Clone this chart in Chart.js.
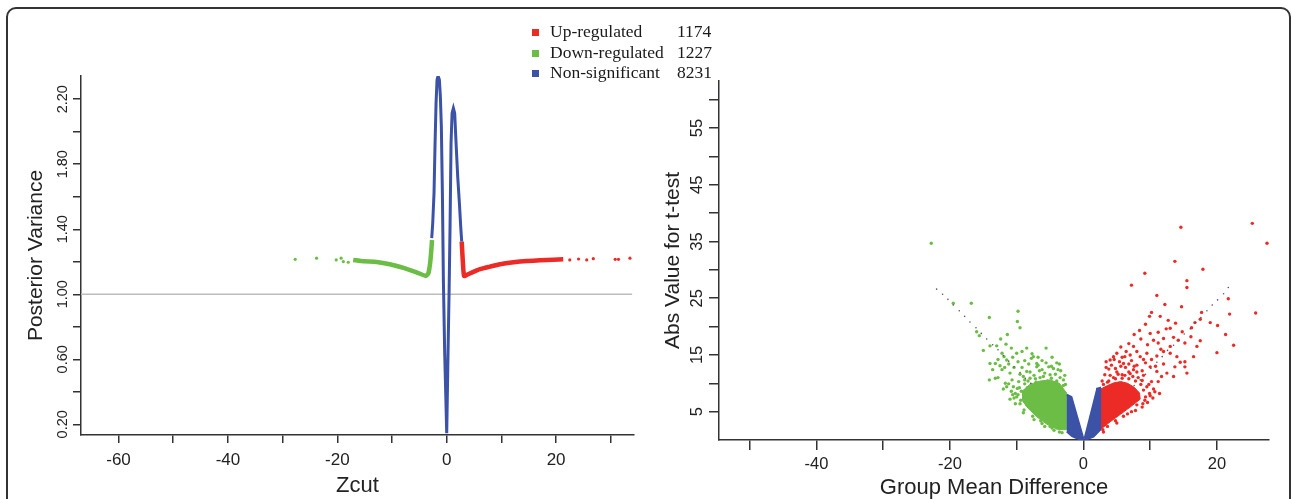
<!DOCTYPE html>
<html lang="en">
<head>
  <meta charset="UTF-8">
  <title>Posterior variance and volcano plot</title>
  <script src="https://cdn.jsdelivr.net/npm/chart.js"></script>
  <style>
    body { margin: 0; background: #fff; width: 1292px; height: 499px; overflow: hidden; position: relative; }
    .frame { position: absolute; left: 6px; top: 7px; width: 1281px; height: 600px; border: 2px solid #333; border-radius: 10px; }
    canvas { position: absolute; top: 0; }
    #leftChart { left: 0; }
    #rightChart { left: 650px; }
    .legend { position: absolute; left: 532px; top: 21px; font-family: 'Liberation Serif', serif; font-size: 17.5px; color: #1a1a1a; }
    .legend .row { height: 20.5px; line-height: 20.5px; white-space: nowrap; }
    .legend .sw { display: inline-block; width: 7px; height: 7px; margin-right: 11px; vertical-align: 1px; }
    .legend .lbl { display: inline-block; width: 127px; }
  </style>
</head>
<body>
  <div class="frame"></div>
  <canvas id="leftChart" width="650" height="499"></canvas>
  <canvas id="rightChart" width="642" height="499"></canvas>
  <div class="legend" id="legend"></div>

  <script>
    // legend
    const legendLabels = ['Up-regulated', 'Down-regulated', 'Non-significant'];
    const legendCounts = [1174, 1227, 8231];

    // left panel: Zcut vs posterior variance
    const leftXTicks = [-60, -50, -40, -30, -20, -10, 0, 10, 20, 30];
    const leftXLabels = [-60, -40, -20, 0, 20];
    const leftYTicks = [0.2, 0.4, 0.6, 0.8, 1.0, 1.2, 1.4, 1.6, 1.8, 2.0, 2.2];
    const leftYLabels = [0.2, 0.6, 1.0, 1.4, 1.8, 2.2];
    const refLineY = 1.0;

    const leftGreenSparse = [[-27.7, 1.215], [-23.8, 1.222], [-20.2, 1.211], [-19.3, 1.222], [-18.9, 1.201], [-18.0, 1.197]];
    const leftGreenBand = [[-17.1, 1.211], [-15.2, 1.203], [-12.8, 1.199], [-10.4, 1.185], [-7.9, 1.162], [-5.5, 1.135],
      [-3.8, 1.113], [-3.35, 1.129], [-3.05, 1.187], [-2.86, 1.252], [-2.68, 1.334]];
    const leftBlueCurve = [[-2.74, 1.345], [-2.56, 1.437], [-2.32, 1.622], [-2.13, 1.929], [-1.95, 2.175], [-1.77, 2.319],
      [-1.58, 2.344], [-1.34, 2.319], [-1.16, 2.216], [-0.98, 2.031], [-0.79, 1.622], [-0.61, 1.088], [-0.37, 0.637],
      [-0.18, 0.390], [0, 0.145], [0.12, 0.390], [0.24, 0.637], [0.43, 1.006], [0.61, 1.416], [0.79, 1.929],
      [0.98, 2.114], [1.22, 2.145], [1.46, 2.114], [1.71, 1.929], [2.01, 1.724], [2.32, 1.560], [2.56, 1.416], [2.74, 1.324]];
    const leftRedBand = [[2.74, 1.324], [2.93, 1.211], [3.17, 1.113], [3.66, 1.119], [4.57, 1.133], [6.09, 1.154],
      [7.92, 1.170], [9.75, 1.185], [12.19, 1.197], [14.63, 1.205], [17.06, 1.209], [19.5, 1.213], [21.3, 1.215]];
    const leftRedSparse = [[22.5, 1.211], [24.1, 1.217], [25.6, 1.211], [26.8, 1.219], [30.8, 1.215], [31.4, 1.215], [33.5, 1.222]];

    // right panel: group mean difference vs |t|
    const rightXTicks = [-50, -40, -30, -20, -10, 0, 10, 20];
    const rightXLabels = [-40, -20, 0, 20];
    const rightYTicks = [5, 10, 15, 20, 25, 30, 35, 40, 45, 50, 55, 60];
    const rightYLabels = [5, 15, 25, 35, 45, 55];

    const rightGreenCore = [[-9.2, 8.6], [-8.0, 9.8], [-6.5, 10.4], [-5.0, 10.6], [-3.6, 10.0], [-2.6, 8.4], [-2.6, 1.8],
      [-4.0, 1.9], [-5.5, 2.8], [-7.0, 4.1], [-8.3, 5.6], [-9.2, 7.0]];
    const rightGreenPoints = [[-54.8, 63.0], [-22.8, 34.7], [-19.5, 24.1], [-16.8, 24.1], [-14.1, 21.6], [-9.8, 22.7],
      [-9.9, 20.9], [-9.5, 19.8], [-11.4, 18.6], [-11.6, 16.9], [-16.0, 19.1], [-15.6, 18.4], [-14.0, 16.6], [-15.0, 15.8],
      [-12.2, 15.3], [-11.9, 14.7], [-11.5, 14.1], [-11.2, 13.4], [-14.0, 13.5], [-13.2, 13.5], [-12.5, 13.1], [-12.2, 12.4],
      [-14.1, 10.6], [-13.2, 10.9], [-11.7, 10.0], [-10.0, 15.3], [-9.2, 15.6], [-8.5, 16.2], [-7.7, 15.2], [-7.5, 14.7],
      [-5.6, 16.2], [-7.0, 13.5], [-4.7, 14.6], [-4.0, 13.6], [-3.6, 13.4], [-4.5, 12.6], [-7.0, 12.9], [-6.2, 12.4],
      [-8.5, 12.1], [-9.5, 11.6], [-9.7, 10.3], [-8.8, 10.6], [-8.0, 10.9], [-10.2, 8.2], [-10.0, 7.6], [-8.5, 6.2],
      [-4.7, 2.1], [-11.0, 11.8], [-10.7, 10.6], [-11.5, 9.4], [-10.5, 9.4], [-6.5, 11.0], [-5.0, 11.5], [-3.5, 11.0],
      [-6.0, 9.5], [-9.0, 11.2], [-8.0, 12.0], [-7.4, 11.4], [-6.6, 12.2], [-5.8, 11.8], [-5.2, 12.9], [-4.2, 11.6],
      [-3.4, 12.2], [-7.8, 9.8], [-9.6, 9.2], [-10.8, 8.6], [-11.2, 9.9], [-12.0, 9.0], [-6.2, 14.0], [-8.2, 13.4],
      [-9.8, 13.8], [-10.4, 12.8], [-3.0, 9.6], [-2.8, 11.4], [-5.4, 10.4], [-8.6, 8.4], [-9.4, 7.0], [-6.8, 4.6], [-3.6, 1.4],
      [-9.8, 8.0], [-9.5, 6.4], [-8.9, 5.3], [-7.6, 4.2], [-6.4, 3.4], [-5.0, 2.4], [-10.4, 7.4], [-9.9, 9.1], [-8.8, 9.9],
      [-7.2, 10.8], [-6.0, 11.2], [-4.8, 10.9], [-3.0, 10.6], [-2.7, 9.8], [-8.3, 10.4], [-7.9, 8.9], [-10.6, 8.0],
      [-11.0, 7.2], [-9.0, 4.8], [-6.2, 2.9], [-4.4, 1.7], [-3.2, 1.3], [-7.1, 10.2], [-5.6, 10.2], [-4.0, 10.4],
      [-8.4, 9.2], [-9.3, 8.6], [-10.2, 6.4], [-7.4, 3.6], [-5.8, 2.4], [-6.8, 14.6], [-7.8, 14.4], [-8.8, 14.0],
      [-10.6, 14.6], [-12.8, 14.2], [-13.6, 12.4], [-12.8, 11.0], [-11.8, 12.8], [-9.2, 12.8], [-5.6, 13.6], [-4.8, 13.0],
      [-3.8, 12.4], [-6.8, 13.2], [-13.0, 16.6], [-12.4, 17.8], [-10.8, 16.2]];
    const rightBlueLeft = [[-2.5, 8.0], [-1.8, 7.6], [-0.1, 0.6], [0, 0.1], [-0.8, 0.2], [-1.7, 0.7], [-2.5, 1.5]];
    const rightBlueRight = [[1.9, 9.0], [2.5, 9.2], [2.5, 1.8], [1.5, 0.6], [0.4, 0.1], [0.1, 0.6]];
    const rightRedCore = [[2.6, 9.0], [3.6, 9.6], [4.6, 10.1], [5.6, 10.3], [6.6, 10.0], [7.6, 9.3], [8.4, 8.3], [8.5, 7.2],
      [7.0, 5.8], [5.5, 4.5], [4.0, 3.2], [2.6, 1.9]];
    const rightRedPoints = [[25.3, 38.2], [14.6, 37.5], [27.5, 34.7], [13.7, 31.5], [17.9, 30.1], [9.2, 29.4], [15.5, 28.1],
      [15.5, 26.9], [7.2, 27.3], [11.0, 25.5], [21.7, 24.9], [14.7, 23.5], [12.2, 23.9], [21.9, 22.2], [25.8, 22.4],
      [10.2, 22.5], [9.9, 21.8], [11.5, 21.8], [12.7, 21.1], [17.7, 22.5], [17.5, 21.3], [16.7, 20.7], [19.0, 20.7],
      [20.1, 20.2], [16.2, 19.8], [13.0, 19.7], [12.4, 19.6], [9.3, 20.4], [8.4, 19.3], [7.6, 18.6], [14.8, 19.1],
      [21.3, 18.6], [22.5, 16.7], [20.0, 15.4], [16.1, 18.2], [15.2, 17.1], [14.2, 17.6], [13.5, 18.1], [17.0, 16.5],
      [17.5, 17.5], [16.5, 14.7], [15.2, 13.8], [15.2, 12.9], [13.0, 16.5], [11.2, 17.1], [10.5, 17.6], [12.0, 17.9],
      [13.7, 12.9], [13.5, 11.2], [12.5, 11.8], [11.0, 12.1], [10.0, 12.9], [9.3, 13.6], [8.0, 13.2], [6.4, 15.6],
      [6.2, 14.7], [5.0, 15.3], [4.5, 14.7], [4.0, 14.1], [8.5, 14.7], [7.5, 16.5], [9.5, 15.3], [11.0, 14.8],
      [12.0, 15.6], [10.7, 8.5], [11.4, 8.2], [9.5, 9.4], [11.7, 11.2], [10.2, 10.3], [11.2, 10.3], [13.0, 15.3],
      [14.0, 14.7], [14.5, 13.7], [15.5, 11.8], [3.2, 11.5], [3.8, 12.5], [4.5, 11.0], [5.0, 12.0], [5.8, 11.5],
      [6.3, 12.8], [7.0, 11.7], [7.5, 12.4], [8.2, 11.0], [8.8, 10.5], [6.0, 13.5], [5.4, 13.8], [7.2, 14.0], [8.8, 12.2],
      [9.8, 9.8], [10.5, 9.0], [3.6, 10.2], [4.2, 13.2], [9.6, 6.6], [8.8, 5.8], [7.8, 5.2], [6.6, 4.6], [9.2, 7.0],
      [10.0, 7.8], [2.8, 10.4], [3.0, 1.4], [5.0, 3.0],
      [9.0, 8.8], [9.3, 7.6], [8.0, 6.2], [7.2, 5.0], [6.0, 4.2], [4.8, 3.4], [3.6, 2.4], [2.9, 1.8], [8.6, 9.8],
      [7.8, 10.4], [6.8, 10.8], [5.8, 10.9], [4.8, 10.8], [3.8, 10.4], [3.0, 9.8], [9.9, 8.2], [10.4, 7.4], [8.9, 6.4],
      [6.2, 11.4], [7.4, 11.2], [4.0, 11.4], [5.2, 11.6], [6.8, 12.0], [8.0, 12.0], [9.0, 11.4], [4.8, 12.6], [5.6, 13.0],
      [6.8, 13.4], [7.6, 13.0], [3.4, 12.8], [4.6, 14.2], [5.8, 14.6], [7.0, 15.0], [8.0, 15.6], [9.0, 14.2], [10.2, 14.2],
      [10.8, 13.0], [12.0, 13.4], [11.6, 16.0], [9.6, 16.8], [8.6, 17.8], [10.0, 18.8], [11.2, 19.0], [13.8, 20.6],
      [6.8, 17.0], [5.6, 16.4], [3.4, 13.8]];
    const rightThresholdLeft = [[-22.0, 26.6], [-21.1, 25.7], [-20.3, 24.8], [-19.5, 23.8], [-18.6, 22.8], [-17.8, 21.8],
      [-17.0, 20.8], [-16.1, 19.8], [-15.3, 18.8], [-14.5, 17.8], [-13.6, 16.8], [-12.8, 15.9], [-12.0, 14.9],
      [-11.2, 13.9], [-10.4, 12.9], [-9.5, 11.9], [-8.7, 10.9], [-7.9, 10.0]];
    const rightThresholdRight = [[21.7, 26.9], [21.0, 25.8], [20.1, 24.7], [19.3, 23.8], [18.5, 22.8], [17.6, 21.6],
      [16.8, 20.7], [16.0, 19.6], [15.1, 18.7], [14.3, 17.6], [13.5, 16.7], [12.6, 15.8], [11.8, 14.7], [11.0, 13.7],
      [10.1, 12.6], [9.3, 11.6], [8.5, 10.6], [7.6, 9.6]];

    const RED = '#ec2a26';
    const GREEN = '#6cbd45';
    const BLUE = '#3b52a6';
    const AXIS = '#333';
    const legendColors = [RED, GREEN, BLUE];

    const legend = document.getElementById('legend');
    legendLabels.forEach((lbl, i) => {
      const row = document.createElement('div');
      row.className = 'row';
      row.innerHTML = '<span class="sw" style="background:' + legendColors[i] + '"></span>' +
        '<span class="lbl">' + lbl + '</span><span>' + legendCounts[i] + '</span>';
      legend.appendChild(row);
    });

    Chart.defaults.font.family = "'Liberation Sans', Arial, sans-serif";
    Chart.defaults.color = '#222';

    const pts = arr => arr.map(p => ({ x: p[0], y: p[1] }));
    const near = (list, v) => list.some(t => Math.abs(t - v) < 1e-6);

    function axisX(o) {
      return {
        type: 'linear', min: o.min, max: o.max,
        afterBuildTicks: s => { s.ticks = o.ticks.map(v => ({ value: v })); },
        afterFit: s => { s.height = o.height; },
        grid: { display: true, drawOnChartArea: false, drawTicks: true, tickLength: o.tl, color: AXIS, lineWidth: 1.5 },
        border: { display: true, color: AXIS, width: 1.5 },
        ticks: { autoSkip: false, maxRotation: 0, padding: o.pad, font: { size: o.fs }, color: '#222',
          callback: v => near(o.labels, v) ? String(v) : '' },
        title: { display: true, text: o.title, font: { size: 22 }, color: '#222', padding: { top: 0, bottom: o.tpad } }
      };
    }

    function axisY(o) {
      return {
        type: 'linear', min: o.min, max: o.max,
        afterBuildTicks: s => { s.ticks = o.ticks.map(v => ({ value: v })); },
        afterFit: s => { s.width = o.width; },
        grid: { display: true, drawOnChartArea: false, drawTicks: true, tickLength: o.tl, color: AXIS, lineWidth: 1.5 },
        border: { display: true, color: AXIS, width: 1.5 },
        ticks: { autoSkip: false, minRotation: 90, maxRotation: 90, crossAlign: 'center', padding: o.pad,
          font: { size: o.fs }, color: '#222',
          callback: v => near(o.labels, v) ? o.fmt(v) : '' },
        title: { display: true, text: o.title, font: { size: 21 }, color: '#222', padding: { top: o.tpad, bottom: 0 } }
      };
    }

    const common = {
      responsive: false,
      animation: false,
      plugins: { legend: { display: false }, tooltip: { enabled: false } },
      elements: { point: { borderWidth: 0 } }
    };

    // left chart
    const lx = axisX({ min: -66.86, max: 34.24, ticks: leftXTicks, labels: leftXLabels, height: 64, tl: 8, pad: 7, fs: 17, title: 'Zcut', tpad: 0 });
    const ly = axisY({ min: 0.134, max: 2.343, ticks: leftYTicks, labels: leftYLabels, width: 81, tl: 8, pad: -4, fs: 14.5,
      title: 'Posterior Variance', tpad: 24, fmt: v => v.toFixed(2) });

    new Chart(document.getElementById('leftChart'), {
      type: 'scatter',
      data: {
        datasets: [
          { data: pts(leftBlueCurve), showLine: true, borderColor: BLUE, borderWidth: 3, pointRadius: 0, tension: 0 },
          { data: pts(leftGreenBand), showLine: true, borderColor: GREEN, borderWidth: 4.5, pointRadius: 0, tension: 0.2 },
          { data: pts(leftGreenSparse), backgroundColor: GREEN, pointRadius: 1.6 },
          { data: pts(leftRedBand), showLine: true, borderColor: RED, borderWidth: 4.5, pointRadius: 0, tension: 0.2 },
          { data: pts(leftRedSparse), backgroundColor: RED, pointRadius: 1.6 },
          { data: [{ x: -66.86, y: refLineY }, { x: 33.9, y: refLineY }], showLine: true, borderColor: '#bdbdbd', borderWidth: 1.5, pointRadius: 0 }
        ]
      },
      options: Object.assign({}, common, {
        layout: { padding: { left: 0, top: 76, right: 16, bottom: 0 } },
        scales: { x: lx, y: ly }
      })
    });

    // right chart
    const rx = axisX({ min: -54.6, max: 27.8, ticks: rightXTicks, labels: rightXLabels, height: 59, tl: 10, pad: 5, fs: 16.5, title: 'Group Mean Difference', tpad: -2 });
    const ry = axisY({ min: 0, max: 63.3, ticks: rightYTicks, labels: rightYLabels, width: 69, tl: 10, pad: 2, fs: 16.5,
      title: 'Abs Value for t-test', tpad: 11, fmt: v => String(v) });

    new Chart(document.getElementById('rightChart'), {
      type: 'scatter',
      data: {
        datasets: [
          { data: pts(rightThresholdLeft), backgroundColor: '#555', pointRadius: 0.8 },
          { data: pts(rightThresholdRight), backgroundColor: '#555', pointRadius: 0.8 },
          { data: pts(rightGreenPoints), backgroundColor: GREEN, pointRadius: 1.7 },
          { data: pts(rightRedPoints), backgroundColor: RED, pointRadius: 1.7 },
          { data: pts(rightBlueLeft), showLine: true, fill: 'shape', borderColor: BLUE, backgroundColor: BLUE, borderWidth: 2, pointRadius: 0 },
          { data: pts(rightBlueRight), showLine: true, fill: 'shape', borderColor: BLUE, backgroundColor: BLUE, borderWidth: 2, pointRadius: 0 },
          { data: pts(rightGreenCore), showLine: true, fill: 'shape', borderColor: GREEN, backgroundColor: GREEN, borderWidth: 1, pointRadius: 0 },
          { data: pts(rightRedCore), showLine: true, fill: 'shape', borderColor: RED, backgroundColor: RED, borderWidth: 1, pointRadius: 0 }
        ]
      },
      options: Object.assign({}, common, {
        layout: { padding: { left: 0, top: 81, right: 23, bottom: 0 } },
        scales: { x: rx, y: ry }
      })
    });
  </script>
</body>
</html>
